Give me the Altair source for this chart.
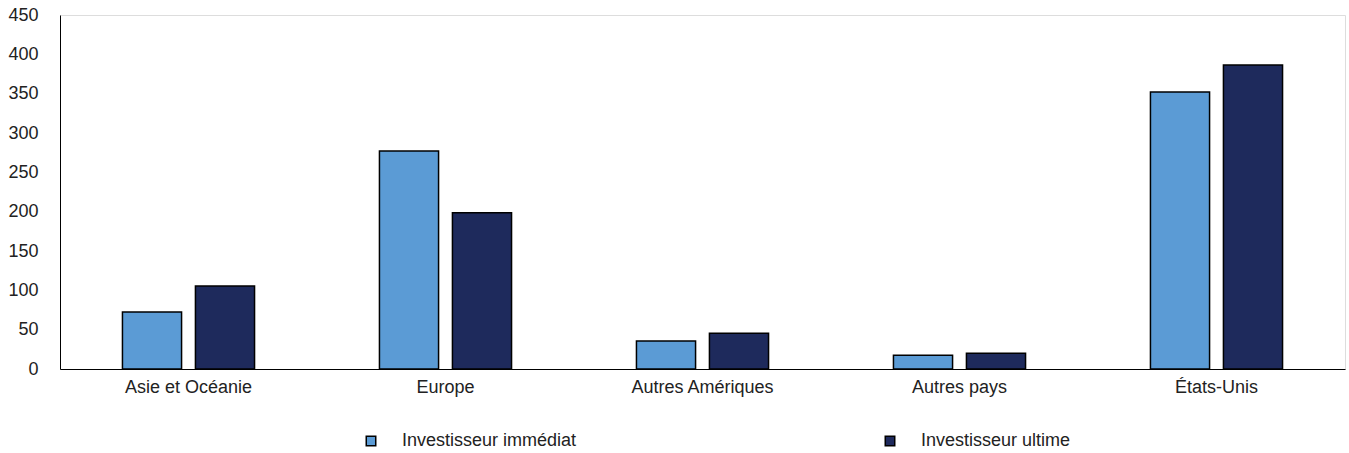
import altair as alt
import pandas as pd

categories = ["Asie et Océanie", "Europe", "Autres Amériques", "Autres pays", "États-Unis"]
series = ["Investisseur immédiat", "Investisseur ultime"]
immediat = [72.5, 277, 35.5, 17.5, 352]
ultime = [105.5, 198.5, 45.5, 20, 386.5]
colors = ["#5B9BD5", "#1E2A5C"]

rows = []
for c, a, b in zip(categories, immediat, ultime):
    rows.append({"cat": c, "serie": series[0], "val": a})
    rows.append({"cat": c, "serie": series[1], "val": b})
df = pd.DataFrame(rows)

FONT = "Liberation Sans"

chart = alt.Chart(df).mark_bar(stroke="black", strokeWidth=1.5).encode(
    x=alt.X("cat:N", sort=categories, title=None,
            scale=alt.Scale(paddingInner=0.486, paddingOuter=0.243),
            axis=alt.Axis(labelAngle=0, ticks=False, domain=True, domainColor="black",
                          labelFontSize=18, labelPadding=9, labelColor="#222")),
    xOffset=alt.XOffset("serie:N", sort=series, scale=alt.Scale(paddingInner=0.19)),
    y=alt.Y("val:Q", title=None,
            scale=alt.Scale(domain=[0, 450]),
            axis=alt.Axis(values=list(range(0, 451, 50)), ticks=False, grid=False, domain=True,
                          domainColor="black", labelFontSize=18, labelPadding=22, labelColor="#222")),
    color=alt.Color("serie:N", sort=series, scale=alt.Scale(domain=series, range=colors),
                    legend=alt.Legend(title=None, orient="none", legendX=302, legendY=417,
                                      direction="horizontal", columns=2, columnPadding=304,
                                      labelLimit=400,
                                      symbolType="square", symbolSize=90, symbolStrokeColor="black",
                                      symbolStrokeWidth=1.5, labelFontSize=18, labelOffset=22,
                                      labelColor="#222")),
).properties(
    width=1285, height=354,
    autosize=alt.AutoSizeParams(type="none"),
    padding={"left": 60, "top": 15, "right": 4, "bottom": 84},
).configure_view(
    stroke="black", strokeWidth=1.2
).configure(font=FONT)

chart.save("out.html", embed_options={"renderer": "svg", "actions": False})
